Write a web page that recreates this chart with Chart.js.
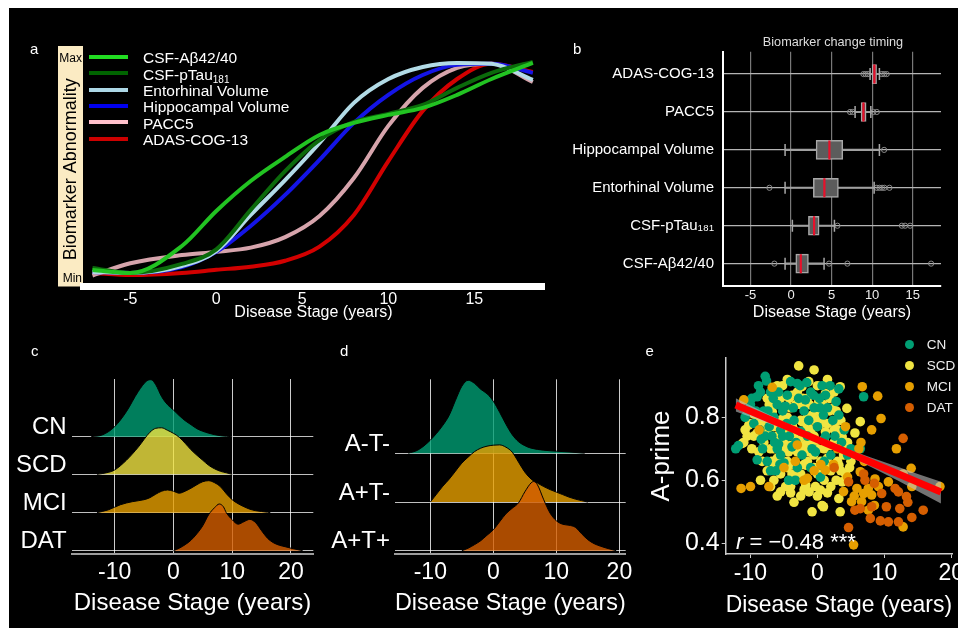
<!DOCTYPE html>
<html>
<head>
<meta charset="utf-8">
<script src="https://cdn.jsdelivr.net/npm/chart.js@4.4.1/dist/chart.umd.min.js"></script>
<style>
  body { margin: 0; background: #fff; }
  #fig { position: relative; width: 958px; height: 628px; background: #fff; overflow: hidden;
         font-family: 'Liberation Sans', Arial, sans-serif; color: #fff; }
  #bg { position: absolute; left: 9px; top: 8px; right: 0; bottom: 0; background: #000; }
  canvas { position: absolute; }
  .t { position: absolute; line-height: 1; white-space: nowrap; }
</style>
</head>
<body>
<div id="fig">
  <div id="bg"></div>
  <canvas id="ca" width="560" height="300" style="left:0;top:30px"></canvas>
  <canvas id="cb" width="398" height="300" style="left:560px;top:30px"></canvas>
  <canvas id="cc" width="320" height="298" style="left:0;top:330px"></canvas>
  <canvas id="cd" width="320" height="298" style="left:320px;top:330px"></canvas>
  <canvas id="ce" width="318" height="298" style="left:640px;top:330px"></canvas>

  <div class="t" style="left:30px;top:40.6px;font-size:15px">a</div>
  <div class="t" style="left:573px;top:41.3px;font-size:15px">b</div>
  <div class="t" style="left:31px;top:343px;font-size:15px">c</div>
  <div class="t" style="left:340px;top:343.3px;font-size:15px">d</div>
  <div class="t" style="left:645.5px;top:343.3px;font-size:15px">e</div>

  <div class="t" style="left:833px;top:36px;font-size:12.7px;color:#ddd;transform:translateX(-50%)">Biomarker change timing</div>
  <div class="t" style="left:736px;top:531.4px;font-size:22px"><i>r</i> = −0.48 ***</div>
  <div id="legA"></div>
  <div id="legE"></div>
</div>

<script>
// ---------- panel a: biomarker abnormality curves ----------
const stageA = [-7.2, -5, -2, 0, 2, 4, 6, 8, 10, 12, 14, 16, 18.4];
const abetaA = [0.014, 0, 0.128, 0.294, 0.436, 0.55, 0.654, 0.711, 0.749, 0.782, 0.844, 0.919, 0.995];
const ptauA = [0.024, 0, 0.043, 0.112, 0.299, 0.483, 0.63, 0.716, 0.754, 0.796, 0.877, 0.948, 1.0];
const entoA = [0.005, 0, 0.033, 0.104, 0.275, 0.44, 0.616, 0.806, 0.919, 0.976, 0.995, 0.991, 0.915];
const hippoA = [0.005, 0, 0.028, 0.1, 0.223, 0.37, 0.536, 0.711, 0.844, 0.938, 0.986, 0.991, 0.948];
const paccA = [-0.012, 0.046, 0.085, 0.1, 0.12, 0.17, 0.27, 0.45, 0.697, 0.877, 0.972, 0.991, 0.905];
const adasA = [0, -0.01, 0, 0.015, 0.03, 0.058, 0.125, 0.275, 0.53, 0.768, 0.919, 0.991, 0.953];

const namesA = ['CSF-Aβ42/40', 'CSF-pTau<sub>181</sub>', 'Entorhinal Volume', 'Hippocampal Volume', 'PACC5', 'ADAS-COG-13'];
const valuesA = [abetaA, ptauA, entoA, hippoA, paccA, adasA];
const lineColA = ['#22c322', '#0b6a0b', '#b2dbe6', '#1414e6', '#d6a4ac', '#d20000'];
const legColA = ['#22dd22', '#006400', '#add8e6', '#0000ee', '#ffc0cb', '#cc0000'];

// ---------- panel b: change timing boxplots ----------
const markersB = ['ADAS-COG-13', 'PACC5', 'Hippocampal Volume', 'Entorhinal Volume', 'CSF-pTau₁₈₁', 'CSF-Aβ42/40'];
const loB = [9.75, 7.9, -0.74, -0.74, 0.16, -0.74];
const q1B = [10.0, 8.64, 3.09, 2.75, 2.14, 0.58];
const medB = [10.28, 8.93, 4.73, 4.11, 2.84, 1.2];
const q3B = [10.55, 9.26, 6.38, 5.84, 3.46, 2.14];
const hiB = [10.9, 9.84, 10.9, 10.25, 5.35, 4.07];
const outB = [
  [8.93, 9.2, 9.47, 11.2, 11.5, 11.8],
  [7.28, 7.6, 10.16, 10.58],
  [11.48],
  [-2.67, 10.58, 10.9, 11.23, 11.52, 12.14],
  [5.72, 13.67, 14.07, 14.69],
  [-2.06, 4.69, 6.95, 17.28]
];

// ---------- panel c: stage density by diagnosis ----------
const groupsC = ['CN', 'SCD', 'MCI', 'DAT'];
const baseC = [114, 76.4, 38, 0];
const cnX = [-14, -12, -10, -8, -6, -4.5, -3.8, -3, -2, -1, 0, 1, 2, 3, 4, 6, 8, 10];
const cnH = [0, 2, 10, 25, 45, 56, 57, 52, 40, 32, 26.7, 21, 16, 12, 8, 3.5, 1, 0];
const scdX = [-13, -11, -10, -8, -6, -4, -3, -2, -1, 0, 1, 2, 3, 4, 5, 6, 7, 8, 9, 10];
const scdH = [0, 2, 4.3, 14, 27, 42, 46, 46.5, 44, 41, 37, 31, 24.5, 19, 14, 9, 5.5, 3, 1.5, 0];
const mciX = [-13, -11, -9, -7, -5, -4, -3, -2, -1, 0, 1, 2, 3, 4, 5, 6, 7, 8, 9, 10, 11, 12, 13, 14, 16, 16.5];
const mciH = [0, 3, 8, 11, 13, 15, 18.5, 21.5, 22.7, 21.5, 19.5, 21.5, 24.5, 28, 31, 32, 30, 26, 19, 13, 9, 6, 3.5, 2, 0.5, 0];
const datX = [0, 1, 2, 3, 4, 5, 6, 7, 7.8, 8.5, 9, 10, 11, 12, 13, 14, 15, 16, 17, 18, 19, 20, 22];
const datH = [0, 2.5, 6, 10.5, 17, 25, 36, 43, 46.7, 44, 38, 31, 26.5, 29, 31.3, 28, 20, 12.5, 8, 5.5, 4, 2.5, 0];

// ---------- panel d: stage density by AT status ----------
const groupsD = ['A-T-', 'A+T-', 'A+T+'];
const baseD = [97.7, 48.7, 0];
const atnnX = [-13.5, -12, -10, -8, -7, -6, -5, -4, -3, -2, -1, 0, 1, 2, 3, 4, 5, 6, 8, 10, 12, 14.5];
const atnnH = [0, 3, 13, 28, 38, 53, 67, 73, 70, 64, 59.5, 52, 41, 29, 18.5, 11.5, 7.5, 5, 3, 2, 1.2, 0];
const atpnX = [-10, -9, -8, -7, -6, -5, -4, -3, -2, -1, 0, 1, 2, 3, 4, 5, 6, 7, 8, 9, 10, 11, 12, 13, 15];
const atpnH = [0, 8, 16, 23, 31, 39, 45, 50.5, 54, 56, 57, 57.3, 55, 50, 40, 30, 23, 19, 15.5, 12.5, 10, 7.5, 5, 3, 0];
const atppX = [-5, -4, -3, -2, -1, 0, 1, 2, 3, 4, 5, 6, 6.4, 7, 8, 9, 10, 11, 12, 13, 14, 15, 16, 17, 18, 19.5];
const atppH = [0, 2.5, 6, 10, 15.5, 21, 29, 37, 42.5, 48, 59, 68, 69.3, 66, 51, 37.7, 30, 26.5, 25.5, 23.5, 17, 11, 7, 4.5, 2.5, 0];

// ---------- panel e: A-prime vs disease stage ----------
const cnPts = [[-12.2,0.70],[-11.8,0.71],[-10.5,0.82],[-10.0,0.84],[-9.8,0.86],[-9.0,0.865],[-8.8,0.90],[-8.5,0.88],[-7.8,0.93],
  [-7.6,0.915],[-7.0,0.88],[-9.0,0.665],[-8.2,0.70],[-7.8,0.74],[-7.2,0.77],[-6.8,0.74],[-6.5,0.80],[-6.2,0.63],[-6.0,0.70],
  [-5.8,0.715],[-5.5,0.76],[-5.2,0.82],[-5.0,0.655],[-4.8,0.835],[-4.5,0.87],[-4.3,0.60],[-4.0,0.913],[-3.8,0.706],[-3.5,0.79],
  [-3.3,0.60],[-3.0,0.907],[-2.8,0.86],[-2.5,0.755],[-2.3,0.68],[-2.0,0.82],[-1.8,0.855],[-1.5,0.74],[-1.3,0.79],[-1.0,0.88],
  [-0.8,0.70],[-0.5,0.83],[-0.3,0.69],[0.0,0.77],[0.3,0.86],[0.45,0.61],[0.7,0.90],[0.9,0.807],[1.2,0.74],[1.5,0.83],[1.9,0.90],
  [2.3,0.79],[2.8,0.85],[3.2,0.89],[3.2,0.807],[3.6,0.72],[4.0,0.76],[4.5,0.68],[5.0,0.70],[6.4,0.70],[6.9,0.865],[-6.0,0.84],
  [-7.5,0.66],[-5.5,0.68],[-9.5,0.78],[-8.0,0.82],[-3.0,0.64],[-1.0,0.64],[2.0,0.68],[1.0,0.66],[-4.2,0.74],
  [-9.2,0.82],[-8.6,0.76],[-7.4,0.82],[-6.6,0.86],[-5.8,0.88],[-4.6,0.78],[-3.6,0.83],[-2.6,0.90],[-1.6,0.91],[-0.6,0.87],
  [0.4,0.83],[1.2,0.87],[-6.4,0.72],[-5.2,0.74],[-3.2,0.72],[-8.4,0.73],[-7.0,0.63],[-5.6,0.65],[2.6,0.74],[-10.8,0.80]];
const scdPts = [[-11.2,0.717],[-11.0,0.72],[-10.25,0.775],[-10.0,0.78],[-9.5,0.81],[-8.75,0.69],[-8.5,0.78],[-8.25,0.66],[-7.5,0.63],
  [-8.0,0.72],[-7.0,0.81],[-6.75,0.818],[-6.25,0.786],[-6.5,0.70],[-6.0,0.74],[-5.5,0.86],[-5.5,0.68],[-5.5,0.563],[-5.0,0.70],
  [-4.75,0.76],[-4.75,0.58],[-4.5,0.64],[-4.0,0.58],[-4.0,0.83],[-3.75,0.775],[-3.75,0.87],[-3.5,0.70],[-3.25,0.733],[-3.0,0.62],
  [-2.8,0.963],[-2.5,0.84],[-2.3,0.786],[-2.3,0.897],[-2.0,0.70],[-2.0,0.65],[-1.8,0.712],[-1.75,0.585],[-1.75,0.648],[-1.5,0.80],
  [-1.3,0.913],[-1.25,0.563],[-1.0,0.76],[-0.8,0.807],[-0.8,0.5],[-0.55,0.68],[-0.3,0.728],[0.0,0.62],[0.2,0.85],[0.45,0.569],
  [0.5,0.78],[0.7,0.52],[0.9,0.516],[1.0,0.70],[1.2,0.876],[1.2,0.754],[1.5,0.64],[1.8,0.82],[2.0,0.58],[2.2,0.828],[2.5,0.72],
  [2.7,0.786],[3.0,0.66],[3.2,0.648],[3.2,0.542],[3.4,0.897],[3.4,0.50],[3.7,0.738],[3.7,0.595],[3.9,0.68],[4.4,0.828],
  [4.2,0.62],[5.6,0.75],[6.4,0.786],[-9.0,0.75],[-7.5,0.86],[-6.0,0.90],[-4.5,0.92],[-3.0,0.88],[-1.5,0.86],[0.0,0.90],[1.5,0.92],
  [-0.5,0.95],[2.5,0.88],[-8.5,0.60],[-7.0,0.58],[-6.5,0.60],[-2.5,0.55],[-3.5,0.53],[-0.3,0.58],[1.0,0.60],[2.0,0.63],[4.5,0.72],
  [5.0,0.66],[-10.5,0.74],[-9.8,0.70],[-5.0,0.80],[-2.8,0.73],[-0.5,0.74],[0.5,0.66],[1.5,0.71],[3.0,0.76],[-3.8,0.62],[-6.8,0.66],
  [-7.8,0.79],[-4.3,0.69],[-1.2,0.69],
  [-7.2,0.84],[-6.2,0.88],[-5.2,0.90],[-4.2,0.86],[-3.2,0.84],[-2.2,0.86],[-1.2,0.84],[-0.2,0.82],[0.8,0.84],[1.8,0.86],[2.8,0.82],
  [-7.5,0.76],[-6.5,0.77],[-5.5,0.79],[-4.5,0.80],[-3.5,0.76],[-2.5,0.79],[-1.5,0.77],[-0.5,0.79],[0.5,0.80],[1.5,0.78],[2.5,0.76],
  [3.5,0.79],[-7.0,0.70],[-6.0,0.67],[-5.0,0.72],[-4.0,0.71],[-3.0,0.69],[-2.0,0.74],[-1.0,0.72],[0.0,0.70],[1.0,0.73],[2.0,0.71],
  [3.0,0.72],[4.0,0.70],[-6.5,0.64],[-5.5,0.62],[-4.5,0.66],[-3.5,0.65],[-2.5,0.62],[-1.5,0.66],[-0.5,0.64],[0.5,0.62],[1.5,0.67],
  [2.5,0.65],[3.5,0.63],[-4.0,0.56],[-2.0,0.57],[0.0,0.55],[1.5,0.56],[-6.0,0.55],[2.8,0.60],[4.8,0.64],[-9.5,0.74],[-8.8,0.80],
  [-10.8,0.76]];
const mciPts = [[-11.0,0.855],[-10.0,0.58],[-11.4,0.574],[-8.7,0.76],[-7.25,0.58],[-6.75,0.895],[-3.3,0.66],[-3.0,0.712],[-1.5,0.606],
  [2.4,0.65],[1.2,0.632],[5.4,0.395],[6.7,0.897],[9.0,0.867],[9.5,0.796],[4.2,0.77],[8.1,0.76],[6.5,0.72],[11.8,0.70],[14.0,0.638],
  [6.4,0.627],[8.6,0.604],[10.6,0.595],[9.1,0.58],[7.6,0.574],[5.9,0.574],[6.9,0.558],[3.9,0.564],[5.1,0.532],[6.6,0.532],
  [8.1,0.553],[7.6,0.505],[18.3,0.58],[12.8,0.62],[14.1,0.58],[12.8,0.452],[-0.5,0.63],[0.5,0.65],[3.0,0.70],[4.5,0.61],
  [-5.0,0.64],[7.0,0.66],[5.5,0.55],[8.5,0.52],[-2.0,0.60],[6.2,0.70]];
const datPts = [[12.8,0.733],[4.65,0.595],[6.9,0.62],[9.6,0.558],[12.1,0.563],[13.3,0.548],[6.4,0.51],[8.1,0.516],[12.3,0.51],
  [15.8,0.505],[14.1,0.482],[7.9,0.479],[9.4,0.471],[10.6,0.468],[12.1,0.468],[4.65,0.45],[10.3,0.516],[5.6,0.505],[11.6,0.574],
  [7.1,0.60],[13.5,0.53],[2.5,0.64],[8.5,0.59]];
const fitStage = [-12.2, 18.45];
const fitAprime = [0.839, 0.563];
const bandStage = [-12.2, -8, -4, 0, 4, 8, 12, 15, 18.45];
const bandUpper = [0.860, 0.816, 0.775, 0.737, 0.703, 0.672, 0.643, 0.620, 0.595];
const bandLower = [0.818, 0.786, 0.755, 0.721, 0.683, 0.642, 0.599, 0.565, 0.526];

const groupColors = { CN: '#009E73', SCD: '#F0E442', MCI: '#E69F00', DAT: '#D55E00' };
const ridgeFill = { CN: 'rgba(0,158,115,0.8)', SCD: 'rgba(240,228,66,0.8)', MCI: 'rgba(230,159,0,0.8)', DAT: 'rgba(213,94,0,0.8)' };

Chart.defaults.font.family = "'Liberation Sans', Arial, sans-serif";
Chart.defaults.color = '#fff';
Chart.defaults.animation = false;
Chart.defaults.responsive = false;
Chart.defaults.plugins.legend.display = false;
Chart.defaults.plugins.tooltip.enabled = false;

const xy = (xs, ys) => xs.map((x, i) => ({ x: x, y: ys[i] }));

// tan background behind the y axis of panel a
const tanBox = {
  id: 'tanBox',
  beforeDraw(chart) {
    const s = chart.scales.y, ctx = chart.ctx;
    ctx.save();
    ctx.fillStyle = '#fbebc3';
    ctx.fillRect(s.left, s.top - 6, s.width, s.height + 6);
    ctx.restore();
  }
};

new Chart(document.getElementById('ca'), {
  type: 'line',
  data: {
    datasets: valuesA.map((v, i) => ({
      data: xy(stageA, v),
      borderColor: lineColA[i],
      borderWidth: 4,
      pointRadius: 0,
      cubicInterpolationMode: 'monotone',
      order: i
    }))
  },
  options: {
    layout: { padding: { left: 58, top: 22, right: 16, bottom: 7.4 } },
    scales: {
      x: {
        type: 'linear', min: -7.75, max: 19.05,
        afterFit: s => { s.height = 36.1; },
        grid: { display: false, drawTicks: false },
        border: { color: '#fff', width: 7 },
        ticks: { stepSize: 5, includeBounds: false, padding: 3, color: '#fff', font: { size: 16 } },
        title: { display: true, text: 'Disease Stage (years)', color: '#fff', font: { size: 16 }, padding: 0 }
      },
      y: {
        type: 'linear', min: -0.064, max: 1.047,
        afterFit: s => { s.width = 25; },
        afterBuildTicks: s => { s.ticks = [{ value: -0.027 }, { value: 1.017 }]; },
        grid: { display: false, drawTicks: false },
        border: { display: false },
        ticks: { callback: v => (v > 0.5 ? 'Max' : 'Min'), color: '#000', font: { size: 12 }, padding: 1 },
        title: { display: true, text: 'Biomarker Abnormality', color: '#000', font: { size: 18 }, padding: { top: 2, bottom: 0 } }
      }
    }
  },
  plugins: [tanBox]
});

// legend a
const legA = document.getElementById('legA');
namesA.forEach((n, i) => {
  const base = 63.3 + i * 16.35;
  legA.insertAdjacentHTML('beforeend',
    `<div style="position:absolute;left:89px;top:${base - 8.5}px;width:39px;height:4px;background:${legColA[i]}"></div>` +
    `<div class="t" style="left:143px;top:${base - 13.1}px;font-size:15.5px">${n.replace('<sub>', '<sub style="font-size:10px;vertical-align:-3px">')}</div>`);
});

// panel b
new Chart(document.getElementById('cb'), {
  type: 'bar',
  data: {
    datasets: [
      { type: 'bar', data: markersB.map((_, i) => ({ x: [loB[i], hiB[i]], y: i })), backgroundColor: '#a0a0a0',
        barThickness: 1.4, grouped: false, order: 4 },
      { type: 'bar', data: markersB.map((_, i) => ({ x: [q1B[i], q3B[i]], y: i })), backgroundColor: '#5c5c5c',
        borderColor: '#a8a8a8', borderWidth: 1.5, borderSkipped: false, barThickness: 19, grouped: false, order: 3 },
      { type: 'scatter', data: markersB.flatMap((_, i) => [{ x: loB[i], y: i }, { x: hiB[i], y: i }]),
        pointStyle: 'line', rotation: 90, pointRadius: 6, borderColor: '#a8a8a8', borderWidth: 1.5, order: 2 },
      { type: 'scatter', data: outB.flatMap((o, i) => o.map(v => ({ x: v, y: i }))),
        pointStyle: 'circle', pointRadius: 2.6, borderColor: '#8a8a8a', backgroundColor: 'rgba(0,0,0,0)', borderWidth: 1, order: 2 },
      { type: 'scatter', data: markersB.map((_, i) => ({ x: medB[i], y: i })),
        pointStyle: 'line', rotation: 90, pointRadius: 9.5, borderColor: '#e8102a', borderWidth: 2.2, order: 1 }
    ]
  },
  options: {
    indexAxis: 'y',
    layout: { padding: { left: 0, top: 21.7, right: 17, bottom: 7.4 } },
    scales: {
      x: {
        type: 'linear', min: -8.4, max: 18.5,
        afterFit: s => { s.height = 36.6; },
        grid: { color: '#787878', lineWidth: 1.2, drawTicks: false },
        border: { color: '#fff', width: 2 },
        ticks: { stepSize: 5, includeBounds: false, padding: 2, color: '#eee', font: { size: 13 } },
        title: { display: true, text: 'Disease Stage (years)', color: '#fff', font: { size: 16 }, padding: 0 }
      },
      y: {
        type: 'linear', reverse: true, min: -0.59, max: 5.59, offset: false,
        afterFit: s => { s.width = 163; },
        afterBuildTicks: s => { s.ticks = markersB.map((_, i) => ({ value: i })); },
        grid: { color: '#b4b4b4', lineWidth: 1.3, drawTicks: false, offset: false },
        border: { color: '#fff', width: 2 },
        ticks: { callback: v => markersB[v], color: '#fff', font: { size: 15 }, padding: 9 }
      }
    }
  }
});

// ridgeline helper for panels c and d
function ridgeChart(id, names, bases, xs, hs, fills, xMin, xMax, yAxisW, pad) {
  return new Chart(document.getElementById(id), {
    type: 'line',
    data: {
      datasets: names.map((n, i) => ({
        data: xs[i].map((x, j) => ({ x: x, y: bases[i] + hs[i][j] })),
        fill: { value: bases[i] },
        backgroundColor: fills[i],
        borderColor: '#000',
        borderWidth: 1,
        pointRadius: 0,
        cubicInterpolationMode: 'monotone',
        order: names.length - i
      }))
    },
    options: {
      layout: { padding: pad },
      scales: {
        x: {
          type: 'linear', min: xMin, max: xMax,
          afterFit: s => { s.height = 63.4; },
          grid: { color: 'rgba(255,255,255,0.8)', lineWidth: 1, drawTicks: false },
          border: { color: '#9c9c9c', width: 2 },
          ticks: { stepSize: 10, includeBounds: false, padding: 5, color: '#fff', font: { size: 23 } },
          title: { display: true, text: 'Disease Stage (years)', color: '#fff', font: { size: 24 }, padding: 0 }
        },
        y: {
          type: 'linear', min: -3.3, max: 171.7,
          afterFit: s => { s.width = yAxisW; },
          afterBuildTicks: s => { s.ticks = bases.map(b => ({ value: b })); },
          grid: { color: 'rgba(255,255,255,0.75)', lineWidth: 1, drawTicks: false },
          border: { display: false },
          ticks: { callback: v => names[bases.indexOf(v)], color: '#fff', font: { size: 24 }, padding: 5, labelOffset: -9 }
        }
      }
    }
  });
}

ridgeChart('cc', groupsC, baseC, [cnX, scdX, mciX, datX], [cnH, scdH, mciH, datH],
  groupsC.map(g => ridgeFill[g]), -17.3, 23.8, 71.7, { left: 0, top: 49, right: 6.7, bottom: 10.6 });

ridgeChart('cd', groupsD, baseD, [atnnX, atpnX, atppX], [atnnH, atpnH, atppH],
  [ridgeFill.CN, ridgeFill.MCI, ridgeFill.DAT], -15.6, 21.0, 75, { left: 0, top: 49.3, right: 14.3, bottom: 10.6 });

// panel e
const ptsDs = (pts, col, ord) => ({
  type: 'scatter', data: pts.map(p => ({ x: p[0], y: p[1] })),
  backgroundColor: col, borderWidth: 0, pointRadius: 4.8, order: ord
});
new Chart(document.getElementById('ce'), {
  type: 'scatter',
  data: {
    datasets: [
      ptsDs(scdPts, groupColors.SCD, 6),
      ptsDs(cnPts, groupColors.CN, 5),
      ptsDs(mciPts, groupColors.MCI, 4),
      ptsDs(datPts, groupColors.DAT, 3),
      { type: 'line', data: xy(bandStage, bandUpper), borderWidth: 0, pointRadius: 0, fill: '+1',
        backgroundColor: 'rgba(190,190,190,0.6)', order: 2 },
      { type: 'line', data: xy(bandStage, bandLower), borderWidth: 0, pointRadius: 0, fill: false, order: 2 },
      { type: 'line', data: xy(fitStage, fitAprime), borderColor: '#ff0000', borderWidth: 7, pointRadius: 0, order: 1 }
    ]
  },
  options: {
    layout: { padding: { left: 0, top: 28, right: 6, bottom: 8.6 } },
    scales: {
      x: {
        type: 'linear', min: -13.7, max: 20.1,
        // keep the plot reaching the right edge; the last tick label may be clipped as in the source
        afterFit: s => { s.height = 65.4; s.paddingLeft = 0; s.paddingRight = 0; },
        grid: { drawOnChartArea: false, drawTicks: true, tickLength: 4, color: '#ccc' },
        border: { color: '#ccc', width: 1.5 },
        ticks: { stepSize: 10, includeBounds: false, padding: 2, color: '#fff', font: { size: 23 } },
        title: { display: true, text: 'Disease Stage (years)', color: '#fff', font: { size: 24 }, padding: 0 }
      },
      y: {
        type: 'linear', min: 0.366, max: 0.988,
        afterFit: s => { s.width = 85.7; s.paddingTop = 0; s.paddingBottom = 0; },
        grid: { drawOnChartArea: false, drawTicks: true, tickLength: 4, color: '#ccc' },
        border: { color: '#ccc', width: 1.5 },
        ticks: { stepSize: 0.2, includeBounds: false, padding: 2, color: '#fff', font: { size: 25 },
                 callback: v => v.toFixed(1) },
        title: { display: true, text: 'A-prime', color: '#fff', font: { size: 26 }, padding: { top: 6, bottom: 0 } }
      }
    }
  }
});

// legend e
const legE = document.getElementById('legE');
groupsC.forEach((g, i) => {
  const base = 349 + i * 21;
  legE.insertAdjacentHTML('beforeend',
    `<div style="position:absolute;left:904.8px;top:${base - 9.5}px;width:9px;height:9px;border-radius:50%;background:${groupColors[g]}"></div>` +
    `<div class="t" style="left:926.7px;top:${base - 11.4}px;font-size:13.5px;color:#eee">${g}</div>`);
});
</script>
</body>
</html>
